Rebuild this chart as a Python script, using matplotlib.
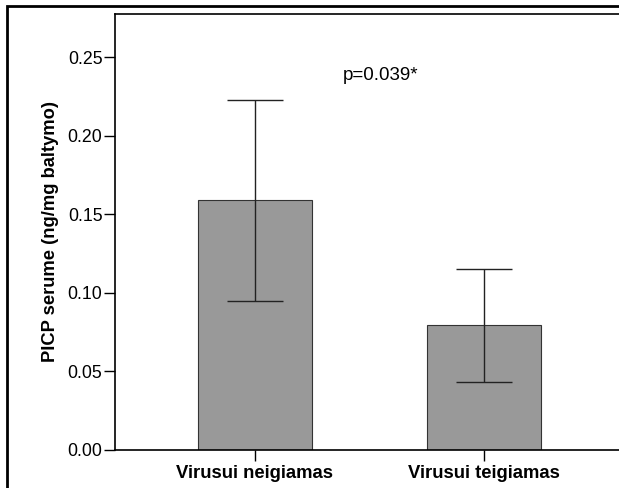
import matplotlib
matplotlib.use("Agg")
from matplotlib import pyplot as plt
from matplotlib.patches import Rectangle

groups = ["Virusui neigiamas", "Virusui teigiamas"]
means = [0.159, 0.0795]
ci_low = [0.0948, 0.0433]
ci_high = [0.223, 0.115]
p_label = "p=0.039*"

plt.rcParams["font.family"] = ["Liberation Sans", "DejaVu Sans"]

fig = plt.figure(figsize=(6.19, 4.88), dpi=100)
W, H = 619, 488
ax = fig.add_axes([115 / W, 1 - 450 / H, (619 - 115) / W, (450 - 14) / H])

x = list(range(len(groups)))
yerr = [[m - lo for m, lo in zip(means, ci_low)],
        [hi - m for m, hi in zip(means, ci_high)]]
ax.bar(x, means, width=0.5, color="#999999", edgecolor="#333333", linewidth=0.8)
ax.errorbar(x, means, yerr=yerr, fmt="none", ecolor="#222222", elinewidth=1,
            capsize=20, capthick=1)

ax.set_xlim(-0.611, 1.59)
ax.set_ylim(0, 0.2774)
ax.set_yticks([0.0, 0.05, 0.10, 0.15, 0.20, 0.25])
ax.set_yticklabels(["0.00", "0.05", "0.10", "0.15", "0.20", "0.25"], fontsize=12.8)
ax.set_xticks(x)
ax.set_xticklabels(groups, fontsize=13.3, fontweight="bold")
ax.tick_params(axis="y", direction="out", length=8, width=1, pad=1)
ax.tick_params(axis="x", direction="out", length=8, width=1, pad=3)
ax.set_ylabel("PICP serume (ng/mg baltymo)", fontsize=13.2, fontweight="bold", labelpad=6)
ax.spines["right"].set_visible(False)
for s in ["left", "top", "bottom"]:
    ax.spines[s].set_linewidth(1.2)

ax.text(0.55, 0.238, p_label, fontsize=13.5, ha="center", va="center")

# outer frame, cut off at the right and bottom
fig.patches.append(Rectangle((7 / W, -0.1), 1.2, 1 - 6 / H + 0.1, transform=fig.transFigure,
                             fill=False, edgecolor="black", linewidth=2))

fig.savefig("out.png", dpi=100)
